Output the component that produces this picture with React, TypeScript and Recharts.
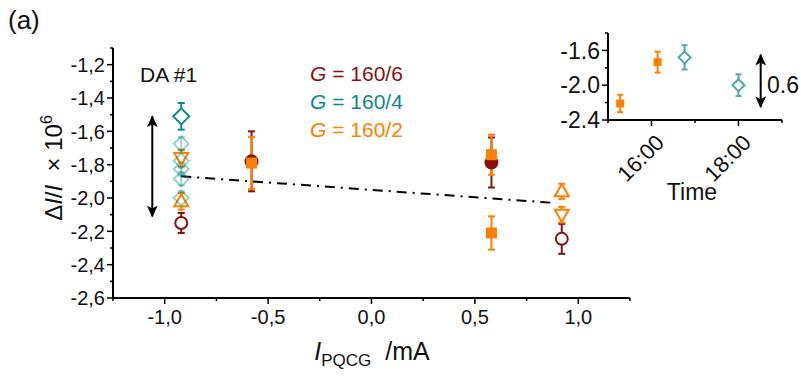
import React from 'react';
import { ScatterChart, Scatter, XAxis, YAxis, ErrorBar, ReferenceLine } from 'recharts';

const DARK_RED = '#8B1111';
const TEAL = '#0B8A8A';
const LIGHT_TEAL = '#4FA9A9';
const ORANGE = '#FF8000';
const FONT = '"Liberation Sans", Arial, sans-serif';

// main panel axes
const xTicks = [-1.25, -1, -0.75, -0.5, -0.25, 0, 0.25, 0.5, 0.75, 1, 1.25];
const xMajor = [-1, -0.5, 0, 0.5, 1];
const yTicks = [-2.6, -2.5, -2.4, -2.3, -2.2, -2.1, -2.0, -1.9, -1.8, -1.7, -1.6, -1.5, -1.4, -1.3, -1.2, -1.1];
const yMajor = [-2.6, -2.4, -2.2, -2.0, -1.8, -1.6, -1.4, -1.2];

// G = 160/6
const g6Open = [
  { x: -0.92, y: -2.15, err: 0.06 },
  { x: 0.92, y: -2.245, err: 0.09 },
];
const g6Filled = [
  { x: -0.58, y: -1.78, err: 0.18 },
  { x: 0.58, y: -1.787, err: 0.15 },
];
// G = 160/4
const g4Dark = [{ x: -0.92, y: -1.51, err: 0.08 }];
const g4Light = [
  { x: -0.92, y: -1.675, err: 0.04 },
  { x: -0.92, y: -1.777, err: 0.04 },
  { x: -0.92, y: -1.826, err: 0.04 },
  { x: -0.92, y: -1.885, err: 0.04 },
  { x: -0.92, y: -2.0, err: 0.04 },
];
// G = 160/2
const g2Square = [
  { x: -0.58, y: -1.79, err: 0.155 },
  { x: 0.58, y: -1.74, err: 0.12 },
  { x: 0.58, y: -2.21, err: 0.1 },
];
const g2Up = [
  { x: -0.92, y: -2.02, err: 0.05 },
  { x: 0.92, y: -1.96, err: 0.045 },
];
const g2Down = [
  { x: -0.92, y: -1.76, err: 0.05 },
  { x: 0.92, y: -2.1, err: 0.047 },
];
const fitLine = [
  { x: -0.92, y: -1.87 },
  { x: 0.89, y: -2.03 },
];
const spreadArrow = [
  { x: -1.06, y: -1.51 },
  { x: -1.06, y: -2.11 },
];

// inset
const insetXTicks = [15, 16, 17, 18, 19];
const insetXMajor = [16, 18];
const insetYTicks = [-2.4, -2.2, -2.0, -1.8, -1.6, -1.4];
const insetYMajor = [-2.4, -2.0, -1.6];
const insetOrange = [
  { x: 15.28, y: -2.21, err: 0.1 },
  { x: 16.14, y: -1.735, err: 0.12 },
];
const insetTeal = [
  { x: 16.76, y: -1.68, err: 0.14 },
  { x: 18.0, y: -2.0, err: 0.125 },
];
const insetArrow = [
  { x: 18.51, y: -1.65 },
  { x: 18.51, y: -2.25 },
];

const isIn = (list: number[], v: number) => list.some((m) => Math.abs(m - v) < 1e-6);
const comma = (v: number) => v.toFixed(1).replace('.', ',');

const xTick = (major: number[], fmt: (v: number) => string, size: number, rotate = false) =>
  (props: any) => {
    const { x, y, payload } = props;
    const big = isIn(major, payload.value);
    const len = big ? 6 : 3;
    return (
      <g>
        <line x1={x} y1={y} x2={x} y2={y + len} stroke="#000" strokeWidth={1.5} />
        {big && !rotate && (
          <text x={x} y={y + len + size} textAnchor="middle" fontSize={size} fontFamily={FONT} fill="#111">
            {fmt(payload.value)}
          </text>
        )}
        {big && rotate && (
          <text
            x={x + 14}
            y={y + 24}
            textAnchor="end"
            fontSize={size}
            fontFamily={FONT}
            fill="#111"
            transform={`rotate(-45, ${x + 14}, ${y + 24})`}
          >
            {fmt(payload.value)}
          </text>
        )}
      </g>
    );
  };

const yTick = (major: number[], fmt: (v: number) => string, size: number) => (props: any) => {
  const { x, y, payload } = props;
  const big = isIn(major, payload.value);
  const len = big ? 6 : 3;
  return (
    <g>
      <line x1={x} y1={y} x2={x - len} y2={y} stroke="#000" strokeWidth={1.5} />
      {big && (
        <text x={x - len - 2} y={y} dy="0.36em" textAnchor="end" fontSize={size} fontFamily={FONT} fill="#111">
          {fmt(payload.value)}
        </text>
      )}
    </g>
  );
};

const diamond = (r: number, stroke: string, fill: string, opacity = 1) => (p: any) => (
  <path
    d={`M${p.cx},${p.cy - r}L${p.cx + r},${p.cy}L${p.cx},${p.cy + r}L${p.cx - r},${p.cy}Z`}
    stroke={stroke}
    strokeOpacity={opacity}
    strokeWidth={2}
    fill={fill}
  />
);
const circle = (r: number, stroke: string, fill: string) => (p: any) => (
  <circle cx={p.cx} cy={p.cy} r={r} stroke={stroke} strokeWidth={2} fill={fill} />
);
const square = (s: number, color: string) => (p: any) => (
  <rect x={p.cx - s / 2} y={p.cy - s / 2} width={s} height={s} fill={color} />
);
const triangle = (up: boolean, color: string) => (p: any) => {
  const d = up
    ? `M${p.cx},${p.cy - 7}L${p.cx + 7},${p.cy + 5}L${p.cx - 7},${p.cy + 5}Z`
    : `M${p.cx},${p.cy + 7}L${p.cx + 7},${p.cy - 5}L${p.cx - 7},${p.cy - 5}Z`;
  return <path d={d} stroke={color} strokeWidth={2} fill="#fff" />;
};
const noShape = () => <g />;

const axisLine = { stroke: '#000', strokeWidth: 2 };

export default function App() {
  return (
    <div style={{ position: 'absolute', left: 0, top: 0, width: 801, height: 377, background: '#fff' }}>
      <svg width={0} height={0} style={{ position: 'absolute' }}>
        <defs>
          <marker id="arrowHead" viewBox="0 0 10 10" refX="9" refY="5" markerWidth="6" markerHeight="6" orient="auto-start-reverse">
            <path d="M0,0.5L10,5L0,9.5L2.5,5Z" fill="#000" />
          </marker>
        </defs>
      </svg>

      <div style={{ position: 'absolute', left: 0, top: 0 }}>
        <ScatterChart width={801} height={377} margin={{ top: 48, right: 171, bottom: 49, left: 63 }}>
          <XAxis
            type="number"
            dataKey="x"
            domain={[-1.25, 1.25]}
            ticks={xTicks}
            interval={0}
            height={30}
            tickSize={0}
            tickMargin={0}
            tickLine={false}
            axisLine={axisLine}
            tick={xTick(xMajor, comma, 20)}
            allowDataOverflow
          />
          <YAxis
            type="number"
            dataKey="y"
            domain={[-2.6, -1.1]}
            ticks={yTicks}
            interval={0}
            width={50}
            tickSize={0}
            tickMargin={0}
            tickLine={false}
            axisLine={axisLine}
            tick={yTick(yMajor, comma, 20)}
            allowDataOverflow
          />
          <ReferenceLine
            segment={spreadArrow}
            stroke="#000"
            strokeWidth={2}
            markerStart="url(#arrowHead)"
            markerEnd="url(#arrowHead)"
          />
          <Scatter
            data={fitLine}
            line={{ stroke: '#000', strokeWidth: 2, strokeDasharray: '10 6 2 6' }}
            shape={noShape}
            isAnimationActive={false}
          />
          <Scatter data={g6Filled} shape={circle(6, DARK_RED, DARK_RED)} isAnimationActive={false}>
            <ErrorBar dataKey="err" direction="y" width={3.5} stroke={DARK_RED} strokeWidth={2} />
          </Scatter>
          <Scatter data={g6Open} shape={circle(6, DARK_RED, '#fff')} isAnimationActive={false}>
            <ErrorBar dataKey="err" direction="y" width={3.5} stroke={DARK_RED} strokeWidth={2} />
          </Scatter>
          <Scatter data={g2Up} shape={triangle(true, ORANGE)} isAnimationActive={false}>
            <ErrorBar dataKey="err" direction="y" width={3.5} stroke={ORANGE} strokeWidth={2} />
          </Scatter>
          <Scatter data={g2Down} shape={triangle(false, ORANGE)} isAnimationActive={false}>
            <ErrorBar dataKey="err" direction="y" width={3.5} stroke={ORANGE} strokeWidth={2} />
          </Scatter>
          <Scatter data={g4Light} shape={diamond(7.5, TEAL, 'none', 0.4)} isAnimationActive={false}>
            <ErrorBar dataKey="err" direction="y" width={3.5} stroke={TEAL} strokeOpacity={0.4} strokeWidth={2} />
          </Scatter>
          <Scatter data={g4Dark} shape={diamond(8, TEAL, '#fff')} isAnimationActive={false}>
            <ErrorBar dataKey="err" direction="y" width={3.5} stroke={TEAL} strokeWidth={2} />
          </Scatter>
          <Scatter data={g2Square} shape={square(11, ORANGE)} isAnimationActive={false}>
            <ErrorBar dataKey="err" direction="y" width={3.5} stroke={ORANGE} strokeWidth={2} />
          </Scatter>
        </ScatterChart>
      </div>

      <div style={{ position: 'absolute', left: 540, top: 0 }}>
        <ScatterChart width={261} height={210} margin={{ top: 33, right: 19, bottom: 60, left: 28 }}>
          <XAxis
            type="number"
            dataKey="x"
            domain={[15, 19]}
            ticks={insetXTicks}
            interval={0}
            height={30}
            tickSize={0}
            tickMargin={0}
            tickLine={false}
            axisLine={axisLine}
            tick={xTick(insetXMajor, (v) => `${v}:00`, 22, true)}
          />
          <YAxis
            type="number"
            dataKey="y"
            domain={[-2.4, -1.4]}
            ticks={insetYTicks}
            interval={0}
            width={40}
            tickSize={0}
            tickMargin={0}
            tickLine={false}
            axisLine={axisLine}
            tick={yTick(insetYMajor, (v) => v.toFixed(1), 23)}
          />
          <ReferenceLine
            segment={insetArrow}
            stroke="#000"
            strokeWidth={2}
            markerStart="url(#arrowHead)"
            markerEnd="url(#arrowHead)"
          />
          <Scatter data={insetOrange} shape={square(8, ORANGE)} isAnimationActive={false}>
            <ErrorBar dataKey="err" direction="y" width={3} stroke={ORANGE} strokeWidth={2} />
          </Scatter>
          <Scatter data={insetTeal} shape={diamond(6, LIGHT_TEAL, '#fff')} isAnimationActive={false}>
            <ErrorBar dataKey="err" direction="y" width={3} stroke={LIGHT_TEAL} strokeWidth={2} />
          </Scatter>
        </ScatterChart>
      </div>

      <svg
        width={801}
        height={377}
        style={{ position: 'absolute', left: 0, top: 0, pointerEvents: 'none' }}
        fontFamily={FONT}
      >
        <text x={8} y={29} fontSize={26} fill="#111">(a)</text>
        <text x={140} y={82} fontSize={21} fill="#111">DA #1</text>
        <text x={310} y={81} fontSize={21} fill={DARK_RED}>
          <tspan fontStyle="italic">G</tspan> = 160/6
        </text>
        <text x={310} y={109} fontSize={21} fill={TEAL}>
          <tspan fontStyle="italic">G</tspan> = 160/4
        </text>
        <text x={310} y={137} fontSize={21} fill={ORANGE}>
          <tspan fontStyle="italic">G</tspan> = 160/2
        </text>
        <text x={62} y={168} fontSize={24} fill="#111" textAnchor="middle" transform="rotate(-90, 62, 168)">
          Δ<tspan fontStyle="italic">I</tspan>/<tspan fontStyle="italic">I</tspan>
          {'\u00a0\u00a0× 10'}
          <tspan fontSize={16} dy={-10}>6</tspan>
        </text>
        <text x={372} y={360} fontSize={25} fill="#111" textAnchor="middle">
          <tspan fontStyle="italic">I</tspan>
          <tspan fontSize={17} dy={6}>PQCG</tspan>
          <tspan dy={-6}>{'\u00a0\u00a0/mA'}</tspan>
        </text>
        <text x={692} y={200} fontSize={23} fill="#111" textAnchor="middle">Time</text>
        <text x={767} y={93} fontSize={23} fill="#111">0.6</text>
      </svg>
    </div>
  );
}
